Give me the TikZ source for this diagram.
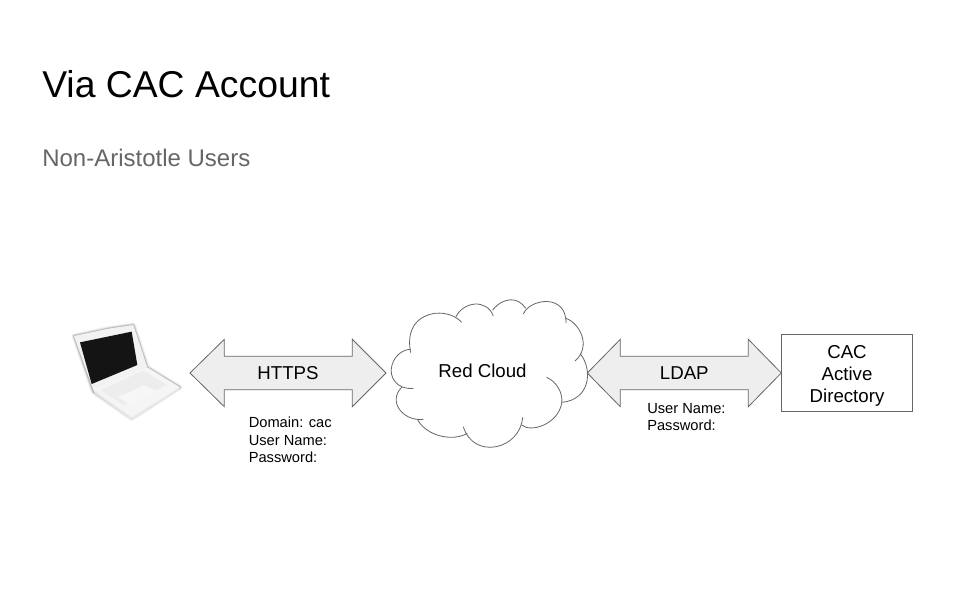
\documentclass[tikz,border=0pt]{standalone}
\usepackage{fontspec}
\setmainfont{Liberation Sans}
\definecolor{arrowfill}{HTML}{EEEEEE}
\definecolor{linegray}{HTML}{666666}
\definecolor{subgray}{HTML}{666666}
\tikzset{
  titletext/.style={anchor=base west,inner sep=0pt,font=\fontsize{28}{33}\selectfont},
  subtext/.style={anchor=base west,inner sep=0pt,text=subgray,font=\fontsize{18}{22}\selectfont},
  bigtext/.style={inner sep=0pt,align=center,font=\fontsize{14}{16.5}\selectfont},
  smalltext/.style={anchor=north west,inner sep=0pt,align=left,font=\fontsize{11}{13.2}\selectfont},
  twoway/.style={draw=linegray,fill=arrowfill,line width=0.6pt,line join=miter},
  lobe/.style={draw=linegray,line width=0.6pt},
}
\begin{document}
\begin{tikzpicture}[x=0.75pt,y=-0.75pt]
\useasboundingbox (0,0) rectangle (960,600);
\fill[white] (0,0) rectangle (960,600);

\node[titletext] (title) at (42,97) {Via CAC Account};
\node[subtext] (subtitle) at (42,166) {Non-Aristotle Users};

% laptop
\begin{scope}[shift={(60,310)},x=0.25pt,y=-0.25pt]
  \foreach \w/\o in {16/0.04,11/0.06,7/0.09,4/0.12}{
    \draw[black,line width=\w*0.25pt,line join=round,opacity=\o]
      (42,78) -- (145,56) -- (220,45) -- (262,172) -- (360,232) -- (215,325) -- (100,245) -- cycle;
  }
  \fill[white!95!black,line join=round] (42,78) -- (145,56) -- (220,45) -- (262,172) -- (100,240) -- cycle;
  \fill[white!96!black] (100,240) -- (262,172) -- (360,232) -- (215,325) -- cycle;
  \fill[white!91!black] (100,240) -- (215,322) -- (360,232) -- (355,240) -- (215,330) -- (105,250) -- cycle;
  \fill[white!93!black] (122,240) -- (250,182) -- (320,225) -- (190,285) -- cycle;
  \fill[white!97!black] (175,262) -- (250,226) -- (290,242) -- (210,282) -- cycle;
  \fill[black!92!white] (60,97) -- (215,65) -- (232,165) -- (95,222) -- cycle;
\end{scope}

% cloud
\begin{scope}[shift={(380,290)},x=0.25pt,y=-0.25pt]
  \draw[lobe] (92,188) .. controls (80,130) and (100,80) .. (165,70) .. controls (200,66) and (230,80) .. (245,97);
  \draw[lobe] (228,80) .. controls (250,35) and (320,25) .. (340,78);
  \draw[lobe] (338,60) .. controls (370,20) and (415,20) .. (437,55);
  \draw[lobe] (430,72) .. controls (450,25) and (560,10) .. (558,100);
  \draw[lobe] (558,85) .. controls (600,100) and (635,170) .. (585,213);
  \draw[lobe] (600,190) .. controls (640,240) and (630,330) .. (545,337);
  \draw[lobe] (500,262) .. controls (530,275) and (550,310) .. (545,340) .. controls (535,400) and (455,430) .. (425,405);
  \draw[lobe] (428,382) .. controls (420,480) and (280,510) .. (250,410);
  \draw[lobe] (262,430) .. controls (220,455) and (140,440) .. (112,388);
  \draw[lobe] (130,388) .. controls (70,395) and (22,335) .. (65,292);
  \draw[lobe] (100,295) .. controls (50,300) and (25,260) .. (36,225) .. controls (45,195) and (70,178) .. (92,178);
\end{scope}
\node[inner sep=0pt,font=\fontsize{14}{16.5}\selectfont] (cloud) at (482.5,371) {Red Cloud};

% arrows
\draw[twoway] (190,373) -- (224.3,339.3) -- (224.3,356.3) -- (352.3,356.3) -- (352.3,339.3) -- (386,373)
  -- (352.3,406.7) -- (352.3,389.7) -- (224.3,389.7) -- (224.3,406.7) -- cycle;
\node[bigtext] (https) at (288,373) {HTTPS};
\draw[twoway] (587.3,373) -- (620.3,339.3) -- (620.3,356.3) -- (748.3,356.3) -- (748.3,339.3) -- (781.3,373)
  -- (748.3,406.7) -- (748.3,389.7) -- (620.3,389.7) -- (620.3,406.7) -- cycle;
\node[bigtext] (ldap) at (684.3,373) {LDAP};

% directory
\node[draw=linegray,line width=0.6pt,fill=white,minimum width=98.25pt,minimum height=57.4pt,inner sep=0pt,
  anchor=north west] (dirbox) at (781.3,334.3) {};
\node[bigtext] (dir) at (847,375.5) {CAC\\Active\\Directory};

\node[smalltext] (httpslabel) at (248.5,416.5) {Domain: cac\\User Name:\\Password:};
\node[smalltext] (ldaplabel) at (647,403) {User Name:\\Password:};
\end{tikzpicture}
\end{document}
